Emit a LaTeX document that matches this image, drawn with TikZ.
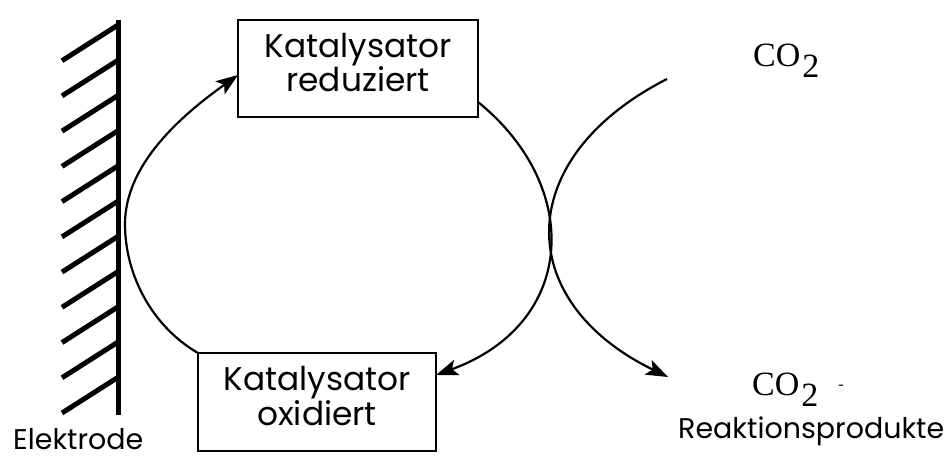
\documentclass[tikz,border=0pt]{standalone}
\usepackage{fontspec}
\newfontfamily\gothic{Poppins}
\newfontfamily\serifco{Liberation Serif}
\usetikzlibrary{arrows.meta}
\tikzset{
  boxnode/.style={draw, line width=2.2pt, minimum width=240pt, minimum height=97pt, inner sep=0pt, outer sep=0pt},
  boxtext/.style={font=\gothic\fontsize{32.8}{32}\selectfont, align=center, inner sep=0pt},
  labeltext/.style={font=\gothic\fontsize{28.5}{32}\selectfont, inner sep=0pt, anchor=base west},
  cotext/.style={font=\serifco\fontsize{34}{34}\selectfont, inner sep=0pt, anchor=base west},
  arc line/.style={line width=2.2pt, -{Stealth[length=22pt,width=16pt,inset=5pt]}},
  electrode/.style={line width=5pt}
}
\begin{document}
\begin{tikzpicture}[x=1pt,y=-1pt]
\useasboundingbox (0,0) rectangle (945,457);
% electrode
\draw[electrode] (118,20) -- (118,415);
\foreach \i in {0,...,10}{
  \draw[electrode] (62,60.7+35.23*\i) -- (118,25+35.23*\i);
}
\node[labeltext] (elek) at (13,449) {Elektrode};
% boxes
\node[boxnode] (b1) at (358,68.5) {};
\node[boxtext] (t1) at (358,62.5) {Katalysator\\reduziert};
\node[boxnode, minimum width=238pt, minimum height=98pt] (b2) at (317,402) {};
\node[boxtext] (t2) at (317,396) {Katalysator\\oxidiert};
% cycle arcs
\coordinate (m) at (125,224);
\draw[arc line] (b2.north west) .. controls +(-45,-26) and +(0,52) .. (m)
  .. controls +(0,-60) and +(-56,40) .. ([yshift=-6.5pt]b1.west);
\draw[arc line] ([yshift=-33.5pt]b1.east) .. controls +(104.9,84.9) and +(141,-51.3) .. ([yshift=27pt]b2.east);
% CO2 arc
\coordinate (c1) at (667,79);
\coordinate (c2) at (668,377);
\draw[arc line] (c1) .. controls +(-154.7,78.8) and +(-156.1,-76.0) .. (c2);
% texts
\node[cotext] (co2a) at (753,67) {CO\kern2pt\raisebox{-11pt}{2}};
\node[cotext] (co2b) at (752,395) {CO\kern2pt\raisebox{-11pt}{2}\kern20pt{\fontsize{16}{16}\selectfont\raisebox{6pt}{-}}};
\node[labeltext] (prod) at (678,438) {Reaktionsprodukte};
\end{tikzpicture}
\end{document}
